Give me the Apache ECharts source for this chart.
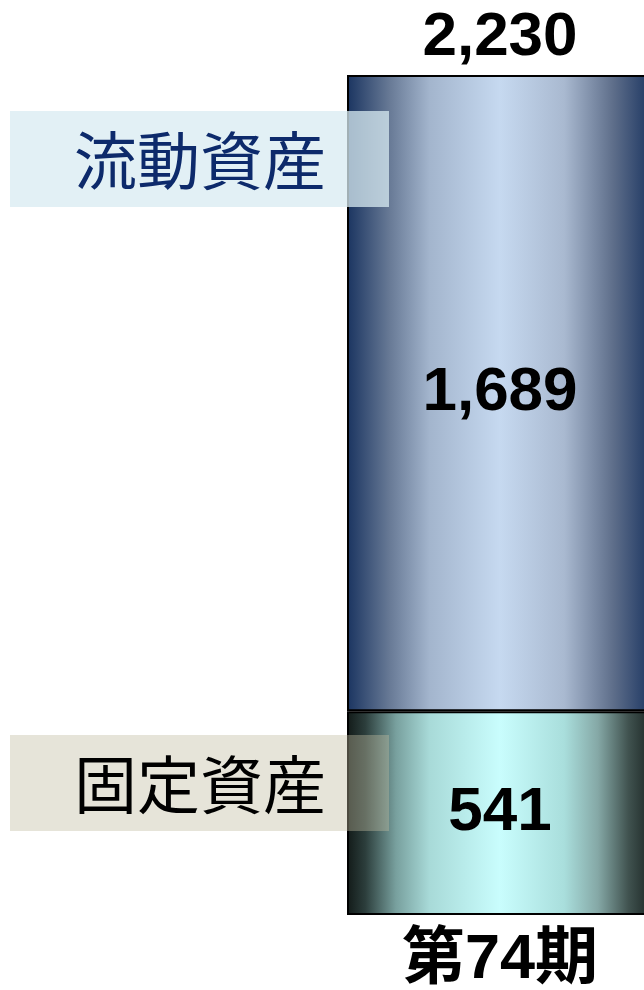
<!DOCTYPE html>
<html>
<head>
<meta charset="utf-8">
<script src="https://cdn.jsdelivr.net/npm/echarts@6/dist/echarts.min.js"></script>
<style>
  html, body { margin: 0; padding: 0; background: #fff; }
  #main { width: 644px; height: 990px; }
</style>
</head>
<body>
<div id="main"></div>
<script>
// データ
const categories = ['第74期'];
const fixedAssets = [541];     // 固定資産
const currentAssets = [1689];  // 流動資産
const totals = categories.map((c, i) => fixedAssets[i] + currentAssets[i]);

const fmt = v => v.toLocaleString('en-US');

const chart = echarts.init(document.getElementById('main'));

const grad = stops => new echarts.graphic.LinearGradient(0, 0, 1, 0,
  stops.map(s => ({ offset: s[0], color: s[1] })));

const numLabel = {
  show: true,
  position: 'inside',
  fontFamily: 'Liberation Sans, Arial, sans-serif',
  fontWeight: 'bold',
  fontSize: 62,
  color: '#000',
  formatter: p => fmt(p.value)
};

const option = {
  animation: false,
  grid: { left: 347, width: 306, top: 75, bottom: 75, outerBoundsMode: 'none', containLabel: false },
  xAxis: {
    type: 'category',
    data: categories,
    axisLine: { show: false },
    axisTick: { show: false },
    axisLabel: {
      margin: 14,
      fontSize: 63,
      fontWeight: 'bold',
      color: '#000',
      fontFamily: 'Liberation Sans, Noto Sans CJK JP, sans-serif'
    }
  },
  yAxis: {
    type: 'value',
    min: 0,
    max: totals[0],
    show: false
  },
  series: [
    {
      name: '固定資産',
      type: 'bar',
      stack: 'assets',
      barWidth: '100%',
      data: fixedAssets,
      itemStyle: {
        borderColor: '#000',
        borderWidth: 2,
        color: grad([[0, '#121a18'], [0.06, '#2c3e3c'], [0.16, '#78a09e'], [0.27, '#a8dad8'],
                     [0.5, '#c9fdfd'], [0.71, '#a9dedc'], [0.82, '#85a8a6'], [0.92, '#40524f'], [1, '#1a2422']])
      },
      label: numLabel
    },
    {
      name: '流動資産',
      type: 'bar',
      stack: 'assets',
      barWidth: '100%',
      data: currentAssets,
      itemStyle: {
        borderColor: '#000',
        borderWidth: 2,
        color: grad([[0, '#1a3460'], [0.14, '#687a96'], [0.27, '#a3b5cd'], [0.5, '#c6d9f0'],
                     [0.71, '#a9b9d0'], [0.87, '#5e6e8a'], [1, '#1a3460']])
      },
      label: numLabel
    },
    {
      name: '合計',
      type: 'bar',
      barWidth: '100%',
      barGap: '-100%',
      data: totals,
      z: 1,
      itemStyle: { color: 'transparent' },
      label: Object.assign({}, numLabel, { position: 'top', distance: 6 })
    }
  ],
  graphic: [
    {
      type: 'rect', z: 100,
      shape: { x: 10, y: 111, width: 379, height: 96 },
      style: { fill: 'rgba(216,235,241,0.75)' }
    },
    {
      type: 'text', z: 101,
      x: 326, y: 160,
      style: {
        text: '流動資産', align: 'right', verticalAlign: 'middle',
        fontSize: 63, fontFamily: 'Noto Sans CJK JP, sans-serif', fill: '#0d2a6b'
      }
    },
    {
      type: 'rect', z: 100,
      shape: { x: 10, y: 735, width: 379, height: 96 },
      style: { fill: 'rgba(193,188,160,0.4)' }
    },
    {
      type: 'text', z: 101,
      x: 326, y: 784,
      style: {
        text: '固定資産', align: 'right', verticalAlign: 'middle',
        fontSize: 63, fontFamily: 'Noto Sans CJK JP, sans-serif', fill: '#000'
      }
    }
  ]
};

chart.setOption(option);
</script>
</body>
</html>
